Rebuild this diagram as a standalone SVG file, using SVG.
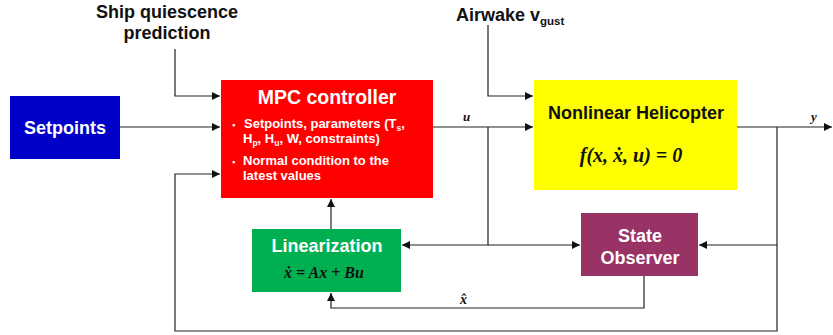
<svg xmlns="http://www.w3.org/2000/svg" width="833" height="335" viewBox="0 0 833 335">
<style>
.ln{fill:none;stroke:#222;stroke-width:1.2}
.lbl{font-family:"Liberation Sans",Arial,sans-serif;font-weight:bold}
.w{fill:#fff}
.k{fill:#111}
.m{font-family:"Liberation Serif","Times New Roman",serif;font-style:italic;font-weight:bold;fill:#111}
</style>
<defs>
<marker id="ah" viewBox="0 0 10 10" refX="10" refY="5" markerWidth="8" markerHeight="8" markerUnits="userSpaceOnUse" orient="auto">
<path d="M0,0 L10,5 L0,10 z" fill="#111"/>
</marker>
</defs>
<g id="labels">
<text class="lbl k" x="167" y="18" font-size="18" text-anchor="middle">Ship quiescence</text>
<text class="lbl k" x="167" y="39" font-size="18" text-anchor="middle">prediction</text>
<text class="lbl k" x="456" y="21" font-size="18">Airwake v<tspan font-size="11.5" dy="4">gust</tspan></text>
<text class="m" x="463" y="121" font-size="13">u</text>
<text class="m" x="811" y="121" font-size="13">y</text>
<text class="m" x="460" y="304" font-size="14">x̂</text>
</g>
<g id="connectors">
<polyline class="ln" points="175,49 175,96 220,96" marker-end="url(#ah)"/>
<line class="ln" x1="120" y1="127" x2="220" y2="127" marker-end="url(#ah)"/>
<polyline class="ln" points="777,127 777,331 175,331 175,174 220,174" marker-end="url(#ah)"/>
<polyline class="ln" points="488,25 488,96 533,96" marker-end="url(#ah)"/>
<line class="ln" x1="433" y1="127" x2="533" y2="127" marker-end="url(#ah)"/>
<line class="ln" x1="737" y1="127" x2="832" y2="127" marker-end="url(#ah)"/>
<polyline class="ln" points="488,127 488,245 402,245" marker-end="url(#ah)"/>
<line class="ln" x1="488" y1="245" x2="580" y2="245" marker-end="url(#ah)"/>
<line class="ln" x1="777" y1="245" x2="699" y2="245" marker-end="url(#ah)"/>
<line class="ln" x1="331" y1="229" x2="331" y2="199" marker-end="url(#ah)"/>
<polyline class="ln" points="644,276 644,308 331,308 331,293" marker-end="url(#ah)"/>
</g>
<g id="setpoints">
<rect x="10" y="96" width="110" height="63" fill="#0000C8"/>
<text class="lbl w" x="65" y="134" font-size="18" text-anchor="middle">Setpoints</text>
</g>
<g id="mpc">
<rect x="221" y="80" width="212" height="118" fill="#FF0000"/>
<text class="lbl w" x="327" y="104" font-size="19.5" text-anchor="middle">MPC controller</text>
<text class="lbl w" font-size="13">
<tspan x="232" y="128" font-size="9">▪</tspan><tspan x="244" y="128">Setpoints, parameters (T<tspan font-size="8.5" dy="3">s</tspan><tspan dy="-3">,</tspan></tspan>
<tspan x="243" y="143">H<tspan font-size="8.5" dy="3">p</tspan><tspan dy="-3">, H</tspan><tspan font-size="8.5" dy="3">u</tspan><tspan dy="-3">, W, constraints)</tspan></tspan>
<tspan x="232" y="165" font-size="9">▪</tspan><tspan x="243" y="165">Normal condition to the</tspan>
<tspan x="243" y="180">latest values</tspan>
</text>
</g>
<g id="helicopter">
<rect x="534" y="80" width="203" height="110" fill="#FFFF00"/>
<text class="lbl k" x="636" y="119" font-size="18" text-anchor="middle">Nonlinear Helicopter</text>
<text class="m" x="631" y="162" font-size="20" text-anchor="middle">f(x, ẋ, u) = 0</text>
</g>
<g id="linearization">
<rect x="252" y="229" width="149" height="63" fill="#00B050"/>
<text class="lbl w" x="327" y="252" font-size="18" text-anchor="middle">Linearization</text>
<text class="m" x="324" y="278" font-size="16" text-anchor="middle">ẋ = Ax + Bu</text>
</g>
<g id="observer">
<rect x="581" y="213" width="117" height="63" fill="#993366"/>
<text class="lbl w" x="640" y="242" font-size="18" text-anchor="middle">State</text>
<text class="lbl w" x="640" y="264" font-size="18" text-anchor="middle">Observer</text>
</g>
</svg>
